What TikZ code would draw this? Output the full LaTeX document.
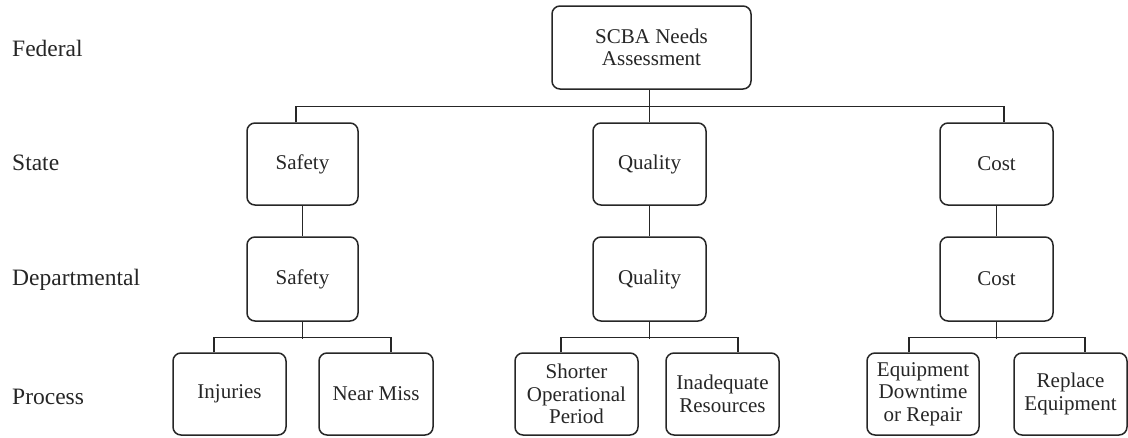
\documentclass[tikz,border=0pt]{standalone}
\usepackage{fontspec}
\setmainfont{Liberation Serif}
\begin{document}
\begin{tikzpicture}[x=1pt,y=-1pt,
  box/.style={draw=black!85, line width=1.5pt, rounded corners=8pt, inner sep=0pt,
    align=center, text=black!85, font=\fontsize{21}{22.5}\selectfont},
  lvl/.style={anchor=west, inner sep=0pt, text=black!85, font=\fontsize{23.5}{25}\selectfont},
  link/.style={draw=black!85, line width=1.3pt}]
\useasboundingbox (0,0) rectangle (1128,437);

% level labels
\node[lvl] (lfed)  at (12,48)  {Federal};
\node[lvl] (lsta)  at (12,163) {State};
\node[lvl] (ldep)  at (12,280) {Departmental};
\node[lvl] (lpro)  at (12,397) {Process};

% top
\node[box, minimum width=199pt, minimum height=83pt] (top) at (651.5,47.5) {SCBA Needs\\Assessment};

% state level
\node[box, minimum width=111pt, minimum height=82pt] (ss) at (302.5,164) {Safety};
\node[box, minimum width=113pt, minimum height=82pt] (sq) at (649.5,164) {Quality};
\node[box, minimum width=113pt, minimum height=82pt] (sc) at (996.5,164) {Cost};

% departmental level
\node[box, minimum width=111pt, minimum height=84pt] (ds) at (302.5,279) {Safety};
\node[box, minimum width=113pt, minimum height=84pt] (dq) at (649.5,279) {Quality};
\node[box, minimum width=113pt, minimum height=84pt] (dc) at (996.5,279) {Cost};

% process level
\node[box, minimum width=113pt, minimum height=82pt] (inj) at (229.5,394) {Injuries};
\node[box, minimum width=114pt, minimum height=82pt] (nm)  at (376,394)   {Near Miss};
\node[box, minimum width=123pt, minimum height=82pt] (sop) at (576.5,394) {Shorter\\Operational\\Period};
\node[box, minimum width=113pt, minimum height=82pt] (ir)  at (722.5,394) {Inadequate\\Resources};
\node[box, minimum width=112pt, minimum height=82pt] (edr) at (923,394)   {Equipment\\Downtime\\or Repair};
\node[box, minimum width=113pt, minimum height=82pt] (re)  at (1070.5,394){Replace\\Equipment};

% top to state
\draw[link] ([xshift=-6.5]ss.north) -- ++(0,-16) -| ([xshift=7.5]sc.north);
\draw[link] (top.south -| sq.north) -- (sq.north);

% state to departmental
\draw[link] (ss) -- (ds);
\draw[link] (sq) -- (dq);
\draw[link] (sc) -- (dc);

% departmental to process
\draw[link] (ds.south) -- ++(0,17);
\draw[link] ([xshift=-15.5]inj.north) -- ++(0,-15) -| ([xshift=15]nm.north);
\draw[link] (dq.south) -- ++(0,17);
\draw[link] ([xshift=-15.5]sop.north) -- ++(0,-15) -| ([xshift=15.5]ir.north);
\draw[link] (dc.south) -- ++(0,17);
\draw[link] ([xshift=-14]edr.north) -- ++(0,-15) -| ([xshift=14.5]re.north);
\end{tikzpicture}
\end{document}
